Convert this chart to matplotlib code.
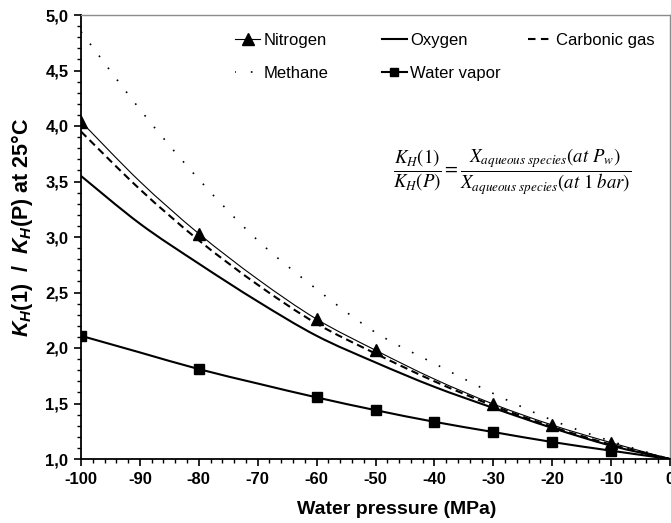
import matplotlib
matplotlib.use("Agg")
import matplotlib.pyplot as plt
import numpy as np
from matplotlib.path import Path
from matplotlib.patches import PathPatch
from matplotlib.lines import Line2D
from matplotlib.ticker import MultipleLocator, FuncFormatter

plt.rcParams['font.family'] = ['Liberation Sans', 'DejaVu Sans']
plt.rcParams['mathtext.fontset'] = 'custom'
plt.rcParams['mathtext.it'] = 'Liberation Sans:italic:bold'
plt.rcParams['mathtext.rm'] = 'Liberation Sans:bold'
plt.rcParams['mathtext.bf'] = 'Liberation Sans:bold'

pressure = [-100, -90, -80, -70, -60, -50, -40, -30, -20, -10, 0]
nitrogen = [4.04, 3.50, 3.03, 2.62, 2.26, 1.98, 1.72, 1.495, 1.306, 1.147, 1.0]
oxygen = [3.55, 3.12, 2.76, 2.42, 2.11, 1.87, 1.65, 1.46, 1.28, 1.12, 1.0]
carbonic = [3.95, 3.43, 2.97, 2.57, 2.22, 1.95, 1.70, 1.48, 1.29, 1.13, 1.0]
methane = [4.85, 4.15, 3.52, 2.97, 2.53, 2.14, 1.86, 1.59, 1.35, 1.16, 1.0]
water = [2.11, 1.96, 1.81, 1.68, 1.555, 1.44, 1.335, 1.243, 1.153, 1.075, 1.0]
nitrogen_marks = [0, 2, 4, 5, 7, 8, 9]
water_marks = [0, 2, 4, 5, 6, 7, 8, 9]


def smooth_path(xs, ys, t=1/6):
    """Excel-like smoothed line: Catmull-Rom converted to cubic Bezier."""
    xs = np.asarray(xs, float)
    ys = np.asarray(ys, float)
    pts = np.column_stack([xs, ys])
    verts = [pts[0]]
    codes = [Path.MOVETO]
    n = len(pts)
    for i in range(n - 1):
        p0 = pts[max(i - 1, 0)]
        p1 = pts[i]
        p2 = pts[i + 1]
        p3 = pts[min(i + 2, n - 1)]
        c1 = p1 + (p2 - p0) * t
        c2 = p2 - (p3 - p1) * t
        verts += [c1, c2, p2]
        codes += [Path.CURVE4] * 3
    return Path(verts, codes)


fig = plt.figure(figsize=(6.71, 5.23), dpi=100)
ax = fig.add_axes([81/671, 64/523, 589/671, 444/523])

dash_c = (0, (3.6, 2.2))
dot_m = (0, (1, 8))
styles = {
    'Nitrogen': dict(lw=0.8, ls='-'),
    'Oxygen': dict(lw=1.5, ls='-'),
    'Carbonic gas': dict(lw=1.5, ls=dash_c),
    'Methane': dict(lw=1.2, ls=dot_m),
    'Water vapor': dict(lw=1.5, ls='-'),
}
series = {'Nitrogen': nitrogen, 'Oxygen': oxygen, 'Carbonic gas': carbonic,
          'Methane': methane, 'Water vapor': water}
for name, vals in series.items():
    st = styles[name]
    ax.add_patch(PathPatch(smooth_path(pressure, vals), fill=False,
                           edgecolor='black', lw=st['lw'], ls=st['ls'],
                           capstyle='butt'))

ax.plot([pressure[i] for i in nitrogen_marks], [nitrogen[i] for i in nitrogen_marks],
        ls='none', marker='^', ms=8, color='black')
ax.plot([pressure[i] for i in water_marks], [water[i] for i in water_marks],
        ls='none', marker='s', ms=6.5, color='black')

hN = Line2D([], [], color='black', lw=0.8, marker='^', ms=8)
hO = Line2D([], [], color='black', lw=1.5)
hC = Line2D([], [], color='black', lw=1.5, ls=(0, (3.6, 2.6)))
hM = Line2D([], [], color='black', lw=1.2, ls=(0.5, (1, 9)))
hW = Line2D([], [], color='black', lw=1.5, marker='s', ms=6)

ax.set_xlim(-100, 0)
ax.set_ylim(1.0, 5.0)
ax.xaxis.set_major_locator(MultipleLocator(10))
ax.xaxis.set_minor_locator(MultipleLocator(2))
ax.yaxis.set_major_locator(MultipleLocator(0.5))
ax.yaxis.set_minor_locator(MultipleLocator(0.1))
ax.yaxis.set_major_formatter(FuncFormatter(lambda v, p: f"{v:.1f}".replace('.', ',')))
ax.xaxis.set_major_formatter(FuncFormatter(lambda v, p: f"{v:.0f}"))
ax.tick_params(which='major', direction='out', length=5, width=1.2, labelsize=12, pad=4)
ax.tick_params(which='minor', direction='out', length=3, width=1.0)
for lab in ax.get_xticklabels() + ax.get_yticklabels():
    lab.set_fontweight('bold')

for s in ['left', 'bottom']:
    ax.spines[s].set_linewidth(1.3)
    ax.spines[s].set_color('black')
for s in ['top', 'right']:
    ax.spines[s].set_linewidth(1.0)
    ax.spines[s].set_color('#8c8c8c')

ax.set_xlabel('Water pressure (MPa)', fontsize=14, fontweight='bold')
ax.xaxis.set_label_coords(397/671, 13/523, transform=fig.transFigure)
ax.xaxis.label.set_va('center')
ax.set_ylabel('$K_H$(1)  /  $K_H$(P) at 25°C', fontsize=15.5, fontweight='bold')
ax.yaxis.set_label_coords(22/671, 1-227/523, transform=fig.transFigure)
ax.yaxis.label.set_va('center')

leg_kw = dict(frameon=False, fontsize=12, handlelength=1.5, handletextpad=0.2,
              labelspacing=1.1, borderaxespad=0, borderpad=0, loc='upper left')
leg1 = ax.legend(handles=[hN, hM], labels=['Nitrogen', 'Methane'],
                 bbox_to_anchor=(235/671, 1-33/523),
                 bbox_transform=fig.transFigure, **leg_kw)
ax.add_artist(leg1)
leg2 = ax.legend(handles=[hO, hW], labels=['Oxygen', 'Water vapor'],
                 bbox_to_anchor=(382/671, 1-33/523),
                 bbox_transform=fig.transFigure, **leg_kw)
ax.add_artist(leg2)
leg3 = ax.legend(handles=[hC], labels=['Carbonic gas'],
                 bbox_to_anchor=(528/671, 1-33/523),
                 bbox_transform=fig.transFigure, **leg_kw)

fig.text(512/671, 1-172/523,
         r'$\dfrac{K_H(1)}{K_H(P)} = \dfrac{X_{aqueous\ species}(at\ P_w)}{X_{aqueous\ species}(at\ 1\ bar)}$',
         ha='center', va='center', fontsize=13.5, math_fontfamily='stix')

fig.savefig('out.png', dpi=100)
